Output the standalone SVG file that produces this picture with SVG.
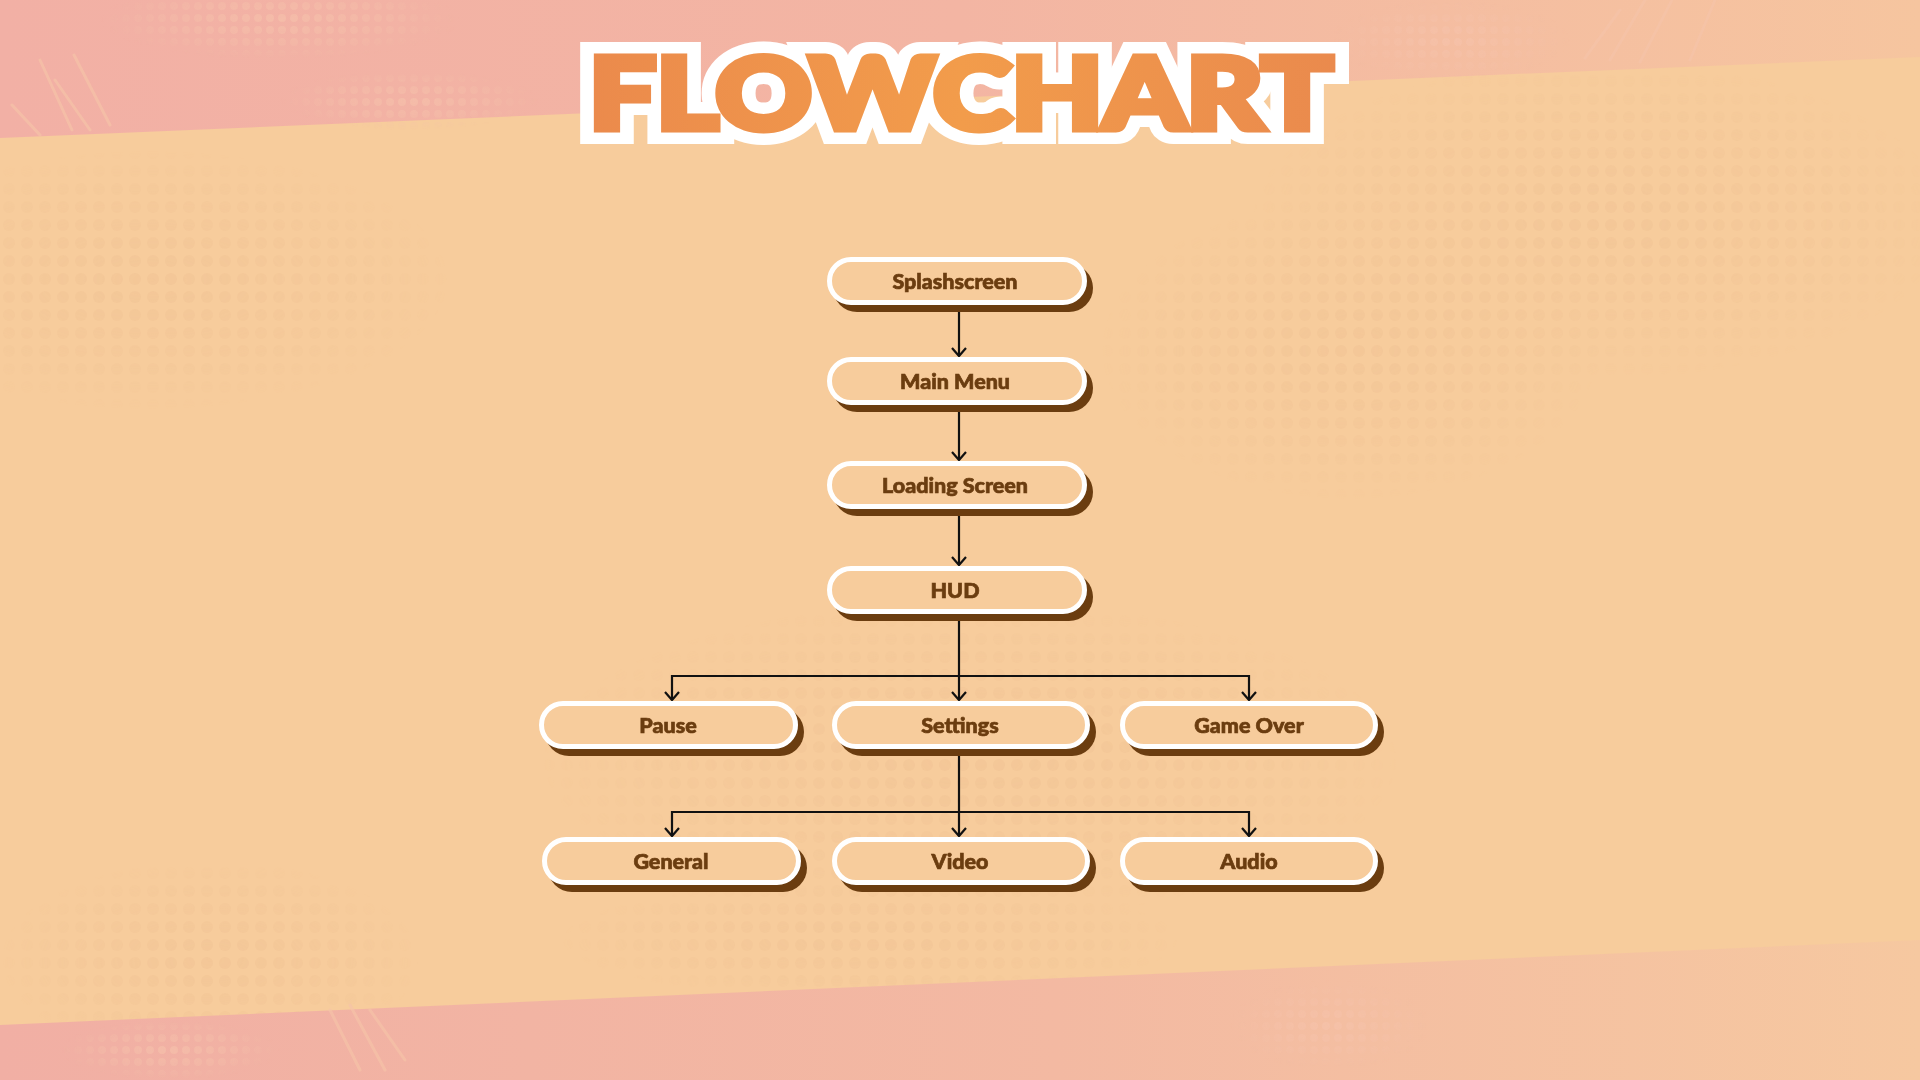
<svg xmlns="http://www.w3.org/2000/svg" width="1920" height="1080" viewBox="0 0 1920 1080">
  <defs>
    <style>
      .node-shadow { fill: #6b3d10; }
      .node-box { fill: #f7cc9c; stroke: #ffffff; stroke-width: 5; }
      .node-label { font-family: "Lato", "Liberation Sans", sans-serif; font-weight: 900; font-size: 21.5px; fill: #6b3d10; stroke: #6b3d10; stroke-width: 0.7; text-anchor: middle; }
      .conn { fill: none; stroke: #111111; stroke-width: 2.2; }
      .title { font-family: "Lato", "Roboto", "Liberation Sans", sans-serif; font-weight: 900; font-size: 100px; stroke-linejoin: miter; }
      .streak { stroke: #f6c3a8; stroke-width: 3; stroke-linecap: round; opacity: 0.7; }
    </style>
    <linearGradient id="topBand" x1="0" y1="0" x2="1" y2="0">
      <stop offset="0" stop-color="#f2b0a5"/>
      <stop offset="0.5" stop-color="#f3b5a3"/>
      <stop offset="1" stop-color="#f6c59f"/>
    </linearGradient>
    <linearGradient id="botBand" x1="0" y1="0" x2="1" y2="0">
      <stop offset="0" stop-color="#f1afa4"/>
      <stop offset="0.55" stop-color="#f3b9a2"/>
      <stop offset="1" stop-color="#f6c8a0"/>
    </linearGradient>
    <linearGradient id="titleGrad" x1="586" y1="0" x2="1336" y2="0" gradientUnits="userSpaceOnUse">
      <stop offset="0" stop-color="#eb8a4c"/>
      <stop offset="0.5" stop-color="#f29c4b"/>
      <stop offset="1" stop-color="#ea8a4d"/>
    </linearGradient>
    <pattern id="dots" width="18" height="18" patternUnits="userSpaceOnUse">
      <circle cx="9" cy="9" r="6" fill="#eab98c"/>
    </pattern>
    <pattern id="dotsPink" width="12" height="12" patternUnits="userSpaceOnUse">
      <circle cx="6" cy="6" r="4" fill="#f6c3ac"/>
    </pattern>
    <radialGradient id="fade" cx="0.5" cy="0.5" r="0.5">
      <stop offset="0" stop-color="#fff"/>
      <stop offset="0.6" stop-color="#888"/>
      <stop offset="1" stop-color="#000"/>
    </radialGradient>
    <mask id="fadeMask" maskContentUnits="objectBoundingBox">
      <rect x="0" y="0" width="1" height="1" fill="url(#fade)"/>
    </mask>
    <marker id="arrow" markerUnits="userSpaceOnUse" viewBox="-11 -9 13 18" refX="0" refY="0" markerWidth="13" markerHeight="18" orient="auto">
      <path d="M-8,-7 L0,0 L-8,7" fill="none" stroke="#111111" stroke-width="2.2"/>
    </marker>
  </defs>

  <!-- Background -->
  <rect x="0" y="0" width="1920" height="1080" fill="#f7cc9c"/>
  <g opacity="0.25">
    <rect x="540" y="600" width="860" height="320" fill="url(#dots)" mask="url(#fadeMask)"/>
    <rect x="1250" y="60" width="700" height="320" fill="url(#dots)" mask="url(#fadeMask)"/>
    <rect x="-150" y="150" width="600" height="260" fill="url(#dots)" mask="url(#fadeMask)"/>
    <rect x="1100" y="200" width="500" height="300" fill="url(#dots)" mask="url(#fadeMask)"/>
    <rect x="0" y="860" width="420" height="200" fill="url(#dots)" mask="url(#fadeMask)"/>
    <rect x="560" y="880" width="620" height="120" fill="url(#dots)" mask="url(#fadeMask)"/>
  </g>
  <polygon points="0,0 1920,0 1920,57 0,138" fill="url(#topBand)"/>
  <polygon points="0,1025 1920,940 1920,1080 0,1080" fill="url(#botBand)"/>
  <g opacity="0.6">
    <rect x="100" y="-20" width="360" height="80" fill="url(#dotsPink)" mask="url(#fadeMask)"/>
    <rect x="280" y="70" width="260" height="60" fill="url(#dotsPink)" mask="url(#fadeMask)"/>
    <rect x="1330" y="0" width="240" height="80" fill="url(#dotsPink)" mask="url(#fadeMask)"/>
    <rect x="60" y="1020" width="220" height="60" fill="url(#dotsPink)" mask="url(#fadeMask)"/>
    <rect x="1230" y="980" width="200" height="90" fill="url(#dotsPink)" mask="url(#fadeMask)"/>
  </g>
  <g>
    <line class="streak" x1="12" y1="105" x2="40" y2="135"/>
    <line class="streak" x1="40" y1="60" x2="72" y2="130"/>
    <line class="streak" x1="55" y1="80" x2="90" y2="130"/>
    <line class="streak" x1="74" y1="55" x2="110" y2="125"/>
    <line class="streak" x1="1585" y1="58" x2="1620" y2="10"/>
    <line class="streak" x1="1610" y1="60" x2="1645" y2="0"/>
    <line class="streak" x1="1640" y1="62" x2="1672" y2="0"/>
    <line class="streak" x1="1690" y1="60" x2="1715" y2="0"/>
    <line class="streak" x1="330" y1="1010" x2="360" y2="1070"/>
    <line class="streak" x1="350" y1="1005" x2="385" y2="1070"/>
    <line class="streak" x1="370" y1="1010" x2="405" y2="1060"/>
  </g>

  <!-- Title -->
  <g id="title">
    <text class="title" x="589" y="129" textLength="744" lengthAdjust="spacingAndGlyphs" fill="#ffffff" stroke="#ffffff" stroke-width="30">FLOWCHART</text>
    <text class="title" x="589" y="129" textLength="744" lengthAdjust="spacingAndGlyphs" fill="url(#titleGrad)" stroke="url(#titleGrad)" stroke-width="7">FLOWCHART</text>
  </g>

  <!-- Connectors -->
  <g id="connectors">
    <path class="conn" d="M959,306 V356" marker-end="url(#arrow)"/>
    <path class="conn" d="M959,406 V460" marker-end="url(#arrow)"/>
    <path class="conn" d="M959,510 V565" marker-end="url(#arrow)"/>
    <path class="conn" d="M959,615 V700" marker-end="url(#arrow)"/>
    <path class="conn" d="M959,676 H672 V700" marker-end="url(#arrow)"/>
    <path class="conn" d="M959,676 H1249 V700" marker-end="url(#arrow)"/>
    <path class="conn" d="M959,750 V836" marker-end="url(#arrow)"/>
    <path class="conn" d="M959,812 H672 V836" marker-end="url(#arrow)"/>
    <path class="conn" d="M959,812 H1249 V836" marker-end="url(#arrow)"/>
  </g>

  <!-- Nodes -->
  <g id="node-splashscreen">
    <rect class="node-shadow" x="833" y="264" width="260" height="48" rx="24"/>
    <rect class="node-box" x="829.5" y="259.5" width="255" height="43" rx="21.5"/>
    <text class="node-label" x="955" y="289">Splashscreen</text>
  </g>
  <g id="node-main-menu">
    <rect class="node-shadow" x="833" y="364" width="260" height="48" rx="24"/>
    <rect class="node-box" x="829.5" y="359.5" width="255" height="43" rx="21.5"/>
    <text class="node-label" x="955" y="389">Main Menu</text>
  </g>
  <g id="node-loading-screen">
    <rect class="node-shadow" x="833" y="468" width="260" height="48" rx="24"/>
    <rect class="node-box" x="829.5" y="463.5" width="255" height="43" rx="21.5"/>
    <text class="node-label" x="955" y="493">Loading Screen</text>
  </g>
  <g id="node-hud">
    <rect class="node-shadow" x="833" y="573" width="260" height="48" rx="24"/>
    <rect class="node-box" x="829.5" y="568.5" width="255" height="43" rx="21.5"/>
    <text class="node-label" x="955" y="598">HUD</text>
  </g>
  <g id="node-pause">
    <rect class="node-shadow" x="545" y="708" width="259" height="48" rx="24"/>
    <rect class="node-box" x="541.5" y="703.5" width="254" height="43" rx="21.5"/>
    <text class="node-label" x="668" y="733">Pause</text>
  </g>
  <g id="node-settings">
    <rect class="node-shadow" x="838" y="708" width="258" height="48" rx="24"/>
    <rect class="node-box" x="834.5" y="703.5" width="253" height="43" rx="21.5"/>
    <text class="node-label" x="960" y="733">Settings</text>
  </g>
  <g id="node-game-over">
    <rect class="node-shadow" x="1126" y="708" width="258" height="48" rx="24"/>
    <rect class="node-box" x="1122.5" y="703.5" width="253" height="43" rx="21.5"/>
    <text class="node-label" x="1249" y="733">Game Over</text>
  </g>
  <g id="node-general">
    <rect class="node-shadow" x="548" y="844" width="259" height="48" rx="24"/>
    <rect class="node-box" x="544.5" y="839.5" width="254" height="43" rx="21.5"/>
    <text class="node-label" x="671" y="869">General</text>
  </g>
  <g id="node-video">
    <rect class="node-shadow" x="838" y="844" width="258" height="48" rx="24"/>
    <rect class="node-box" x="834.5" y="839.5" width="253" height="43" rx="21.5"/>
    <text class="node-label" x="960" y="869">Video</text>
  </g>
  <g id="node-audio">
    <rect class="node-shadow" x="1126" y="844" width="258" height="48" rx="24"/>
    <rect class="node-box" x="1122.5" y="839.5" width="253" height="43" rx="21.5"/>
    <text class="node-label" x="1249" y="869">Audio</text>
  </g>
</svg>
